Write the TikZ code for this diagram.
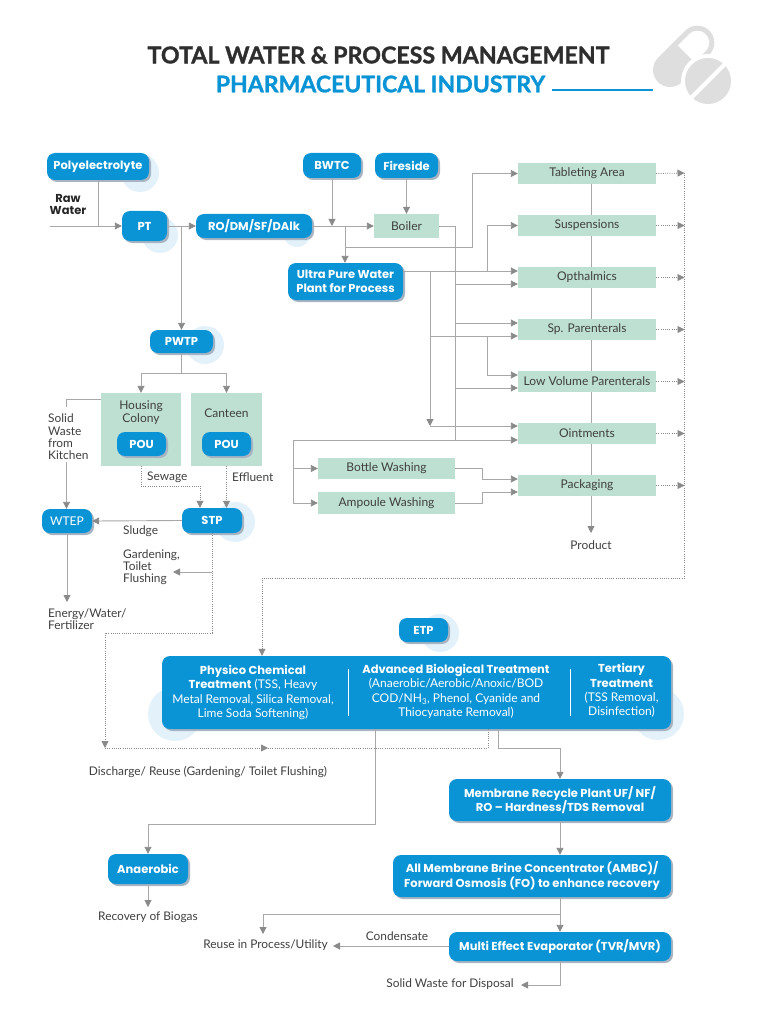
\documentclass[tikz,border=0pt]{standalone}
\usepackage{fontspec}
\setmainfont{Lato}
\newfontfamily\pop{Poppins}
\newfontfamily\ttlf{Lato}[BoldFeatures={FakeBold=1.3}]
\usetikzlibrary{arrows.meta,shadows,calc}
\definecolor{bl}{HTML}{0A94D6}
\definecolor{blt}{HTML}{E3F1FA}
\definecolor{gr}{HTML}{BEE0D2}
\definecolor{sh}{HTML}{A9B4C2}
\definecolor{ln}{HTML}{A8A8A8}
\definecolor{hd}{HTML}{8A8A8A}
\definecolor{tx}{HTML}{3F3F3F}
\definecolor{pill}{HTML}{DEDEDE}
\definecolor{ttl}{HTML}{2E2E2E}
\newcommand\boxfont{\pop\fontsize{11.5}{14.2}\selectfont\bfseries}
\tikzset{
  bluebox/.style={fill=bl,rounded corners=8pt,text=white,inner sep=0pt,align=center,font=\boxfont,
    general shadow={shadow xshift=2pt,shadow yshift=-2pt,fill=sh}},
  greenbox/.style={fill=gr,text=tx,inner sep=0pt,align=center,font=\fontsize{12}{13}\selectfont},
  lab/.style={text=tx,inner sep=1pt,align=left,font=\fontsize{11.9}{12.2}\selectfont},
  labc/.style={lab,align=center},
  wsmall/.style={text=white,inner sep=0pt,align=center,font=\fontsize{12}{14.4}\selectfont},
  conn/.style={draw=ln,line width=0.9pt},
  arr/.style={conn,-{Triangle[length=7pt,width=7pt,color=hd]}},
  dot/.style={draw=hd,line width=0.8pt,dash pattern=on 1pt off 1.2pt},
  darr/.style={dot,-{Triangle[length=7pt,width=7pt,color=hd]}},
  halo/.style={fill=blt,draw=none},
}
\newcommand\bx[7]{%
  \pgfmathsetmacro\cxx{(#2+#4)/2}\pgfmathsetmacro\cyy{(#3+#5)/2}%
  \pgfmathsetmacro\wxx{#4-#2}\pgfmathsetmacro\hyy{#5-#3}%
  \node[#6,minimum width=\wxx pt,minimum height=\hyy pt] (#1) at (\cxx,\cyy) {#7};}
\begin{document}
\begin{tikzpicture}[x=1pt,y=-1pt]
\useasboundingbox (0,0) rectangle (757,1024);
% title
\node[inner sep=0pt,text=ttl,font=\ttlf\fontsize{23.2}{26}\selectfont\bfseries] (title) at (378.5,55) {TOTAL WATER \& PROCESS MANAGEMENT};
\node[inner sep=0pt,text=bl,font=\ttlf\fontsize{23}{26}\selectfont\bfseries] (subtitle) at (380.5,84) {PHARMACEUTICAL INDUSTRY};
\coordinate (ula) at (552,90);\coordinate (ulb) at (653,90);
\draw[draw=bl,line width=1.2pt] (ula) -- (ulb);
% pill icon
\begin{scope}[shift={(686,54)},rotate=45,x=1pt,y=1pt]
  \fill[pill] (0,-17) -- (-22.6,-17) arc[start angle=270,end angle=90,radius=17] -- (0,17) -- cycle;
  \draw[pill,line width=5pt] (0,14.5) -- (16,14.5) arc[start angle=90,end angle=-90,radius=14.5] -- (0,-14.5);
\end{scope}
\begin{scope}[shift={(708,81)},rotate=45,x=1pt,y=1pt]
  \fill[white] (0,0) circle[radius=27];
  \fill[pill] (0,0) circle[radius=23];
  \fill[white] (-27,-2) rectangle (27,2);
\end{scope}
% halos
\fill[halo] (140,173) circle[radius=19];
\fill[halo] (160,235) circle[radius=18];
\fill[halo] (297,233) circle[radius=14];
\fill[halo] (205,345) circle[radius=19];
\fill[halo] (235,522) circle[radius=20];
\fill[halo] (440,633) circle[radius=19];
\fill[halo] (175,714) circle[radius=27];
\fill[halo] (658,714) circle[radius=26];
% blue nodes
\bx{poly}{47}{153}{149}{180}{bluebox}{Polyelectrolyte}
\bx{pt}{122}{211}{167}{241}{bluebox}{PT}
\bx{ro}{196}{214}{312}{238}{bluebox}{RO/DM/SF/DAlk}
\bx{bwtc}{303}{153}{361}{178}{bluebox}{BWTC}
\bx{fire}{375}{153}{438}{178}{bluebox}{Fireside}
\bx{upw}{288}{263}{403}{300}{bluebox}{Ultra Pure Water\\Plant for Process}
\bx{pwtp}{150}{330}{213}{353}{bluebox}{PWTP}
% green nodes
\bx{boiler}{374}{214}{439}{238}{greenbox}{Boiler}
\bx{tab}{518}{163}{656}{184}{greenbox}{Tableting Area}
\bx{susp}{518}{215}{656}{236}{greenbox}{Suspensions}
\bx{opth}{518}{267}{656}{288}{greenbox}{Opthalmics}
\bx{sp}{518}{319}{656}{340}{greenbox}{Sp. Parenterals}
\bx{low}{518}{371}{656}{392}{greenbox}{Low Volume Parenterals}
\bx{oint}{518}{423}{656}{444}{greenbox}{Ointments}
\bx{pack}{518}{475}{656}{496}{greenbox}{Packaging}
\bx{bottle}{318}{458}{455}{479}{greenbox}{Bottle Washing}
\bx{amp}{318}{492}{455}{514}{greenbox}{Ampoule Washing}
\bx{housing}{101}{393}{181}{466}{greenbox}{}
\bx{canteen}{191}{393}{262}{466}{greenbox}{}
\node[greenbox,fill=none] (hlabel) at (141,413) {Housing\\Colony};
\node[greenbox,fill=none] (clabel) at (226.5,413) {Canteen};
\bx{pou1}{117}{432}{166}{456}{bluebox}{POU}
\bx{pou2}{202}{432}{251}{456}{bluebox}{POU}
\bx{wtep}{42}{509}{92}{533}{bluebox,font=\fontsize{12}{13}\selectfont}{WTEP}
\bx{stp}{182}{508}{242}{533}{bluebox}{STP}
\bx{etp}{399}{618}{448}{642}{bluebox}{ETP}
\bx{etpbox}{162}{656}{671}{729}{bluebox}{}
\bx{anaer}{108}{854}{188}{884}{bluebox}{Anaerobic}
\bx{memb}{449}{779}{671}{821}{bluebox}{Membrane Recycle Plant UF/ NF/\\RO – Hardness/TDS Removal}
\bx{ambc}{393}{855}{671}{897}{bluebox}{All Membrane Brine Concentrator (AMBC)/\\Forward Osmosis (FO) to enhance recovery}
\bx{mee}{449}{932}{671}{961}{bluebox}{Multi Effect Evaporator (TVR/MVR)}
% big box text
\node[wsmall] (phys) at (253,692.5) {{\boxfont Physico Chemical}\\{\boxfont Treatment} (TSS, Heavy\\Metal Removal, Silica Removal,\\Lime Soda Softening)};
\node[wsmall] (adv) at (456,691.5) {{\boxfont Advanced Biological Treatment}\\(Anaerobic/Aerobic/Anoxic/BOD\\COD/NH\textsubscript{3}, Phenol, Cyanide and\\Thiocyanate Removal)};
\node[wsmall] (tert) at (621.5,690.5) {{\boxfont Tertiary}\\{\boxfont Treatment}\\(TSS Removal,\\Disinfection)};
\coordinate (sa1) at (348,669);\coordinate (sa2) at (348,716);
\coordinate (sb1) at (570,669);\coordinate (sb2) at (570,716);
\draw[white,line width=0.6pt] (sa1) -- (sa2);
\draw[white,line width=0.6pt] (sb1) -- (sb2);
% plain labels
\node[lab,align=center,text=black!85,font=\pop\fontsize{11.5}{12.2}\selectfont\bfseries] (raw) at (68,204.5) {Raw\\Water};
\node[lab,anchor=north west] (solid) at (47,413) {Solid\\Waste\\from\\Kitchen};
\node[lab,anchor=west] (sew) at (146,477) {Sewage};
\node[lab,anchor=west] (eff) at (231,477) {Effluent};
\node[lab,anchor=west] (sludge) at (122,531) {Sludge};
\node[lab,anchor=west] (gard) at (122,567) {Gardening,\\Toilet\\Flushing};
\node[lab,anchor=west] (energy) at (47,619) {Energy/Water/\\Fertilizer};
\node[labc] (product) at (591,545) {Product};
\node[labc] (disch) at (208,772) {Discharge/ Reuse (Gardening/ Toilet Flushing)};
\node[labc] (biogas) at (148,917) {Recovery of Biogas};
\node[labc] (reuse) at (265.5,945) {Reuse in Process/Utility};
\node[labc] (cond) at (397,936) {Condensate};
\node[labc] (waste) at (450,984) {Solid Waste for Disposal};
% coordinates
\coordinate (rawin) at (50,226);
\coordinate (j1) at (181.5,226);
\coordinate (jb) at (455,226);
\coordinate (jbe) at (455,440);
\coordinate (jup) at (345,226);
\coordinate (jt1) at (345,247);
\coordinate (jt2) at (472,247);
\coordinate (jo) at (430,271);
\coordinate (jo2) at (430,426);
\coordinate (js) at (487,271);
\coordinate (jsp) at (430,336);
\coordinate (jl) at (487,336);
\coordinate (jw) at (293,440);
\coordinate (jm) at (482,468.5);
\coordinate (jn) at (482,503);
\coordinate (jv) at (591,300);
\coordinate (jhc) at (181.5,373);
\coordinate (jsw1) at (66.5,399);
\coordinate (jsw2) at (66.5,407);
\coordinate (jsw3) at (66.5,462);
\coordinate (jse) at (141,486);
\coordinate (jse2) at (200,486);
\coordinate (jst) at (212,633);
\coordinate (jg) at (212,572);
\coordinate (gardt) at (173,572);
\coordinate (jdl) at (105,633);
\coordinate (jdb) at (105,748);
\coordinate (jdr) at (488,748);
\coordinate (jdm) at (268,748);
\coordinate (jr) at (684.5,173);
\coordinate (jrb) at (684.5,578);
\coordinate (jet) at (262,578);
\coordinate (jen) at (375,824);
\coordinate (jan) at (498,748);
\coordinate (jam) at (560,748);
\coordinate (jre) at (560,914);
\coordinate (jre2) at (263,914);
\coordinate (jmw) at (560,985);
\coordinate (wastet) at (521,985);
\coordinate (energyt) at (67,602);
\coordinate (biot) at (148,907);
\coordinate (prodt) at (591,533);
\coordinate (reuset) at (263,934);
\coordinate (condt) at (333,946);
% solid connectors
\draw[conn] (poly.south) -- (poly.south |- rawin);
\draw[arr] (rawin) -- (pt.west);
\draw[arr] (pt.east) -- (ro.west);
\draw[arr] (j1) -- (pwtp.north);
\draw[arr] (ro.east) -- (boiler.west);
\draw[arr] (bwtc.south) -- (bwtc.south |- ro.east);
\draw[arr] (fire.south) -- (fire.south |- boiler.north);
\draw[arr] (jup) -- (jup |- upw.north);
\draw[arr] (jt1) -- (jt2) |- (tab.west);
\draw[conn] (boiler.east) -- (jb) -- (jbe);
\draw[arr] (upw.east |- jo) -- (jo -| opth.west);
\draw[arr] (js) |- (susp.west);
\draw[conn] (jo) -- (jsp);
\draw[arr] (jsp) -- (jo2);
\draw[arr] (jo2) -- (jo2 -| oint.west);
\draw[arr] (jsp) -- (jsp -| sp.west);
\draw[arr] (jl) |- (low.west |- 0,375);
\draw[arr] (jb |- 0,284) -- (opth.west |- 0,284);
\draw[arr] (jb |- 0,323) -- (sp.west |- 0,323);
\draw[arr] (jb |- 0,388) -- (low.west |- 0,388);
\draw[arr] (jw) -- (jw -| oint.west);
\draw[conn] (jw) -- (jw |- amp.west);
\draw[arr] (jw |- bottle.west) -- (bottle.west);
\draw[arr] (jw |- amp.west) -- (amp.west);
\draw[arr] (bottle.east) -- (jm) |- (pack.west |- 0,479);
\draw[arr] (amp.east) -- (jn) |- (pack.west |- 0,492);
\draw[conn] (tab.south -| jv) -- (susp.north -| jv);
\draw[conn] (susp.south -| jv) -- (opth.north -| jv);
\draw[conn] (opth.south -| jv) -- (sp.north -| jv);
\draw[conn] (sp.south -| jv) -- (low.north -| jv);
\draw[conn] (low.south -| jv) -- (oint.north -| jv);
\draw[conn] (oint.south -| jv) -- (pack.north -| jv);
\draw[arr] (pack.south -| jv) -- (prodt);
\draw[conn] (pwtp.south) -- (jhc);
\draw[arr] (jhc) -| (housing.north);
\draw[arr] (jhc) -| (canteen.north);
\draw[conn] (housing.west |- jsw1) -- (jsw1) -- (jsw2);
\draw[arr] (jsw3) -- (jsw3 |- wtep.north);
\draw[arr] (stp.west) -- (wtep.east);
\draw[arr] (wtep.south) -- (energyt);
\draw[arr] (jg) -- (gardt);
\draw[arr] (etpbox.south -| jen) -- (jen) -| (anaer.north);
\draw[arr] (anaer.south) -- (biot);
\draw[arr] (etpbox.south -| jan) -- (jan) -- (jam) -- (memb.north -| jam);
\draw[arr] (memb.south -| jam) -- (ambc.north -| jam);
\draw[arr] (ambc.south -| jam) -- (mee.north -| jam);
\draw[arr] (jre) -- (jre2) -- (reuset);
\draw[arr] (mee.west |- condt) -- (condt);
\draw[arr] (mee.south -| jam) -- (jmw) -- (wastet);
% dotted connectors
\draw[darr] (tab.east) -- (jr);
\draw[darr] (susp.east) -- (susp.east -| jr);
\draw[darr] (opth.east) -- (opth.east -| jr);
\draw[darr] (sp.east) -- (sp.east -| jr);
\draw[darr] (low.east) -- (low.east -| jr);
\draw[darr] (oint.east) -- (oint.east -| jr);
\draw[darr] (pack.east) -- (pack.east -| jr);
\draw[dot] (jr) -- (jrb) -- (jet);
\draw[darr] (jet) -- (jet |- etpbox.north);
\draw[dot] (housing.south) -- (jse) -- (jse2);
\draw[darr] (jse2) -- (jse2 |- stp.north);
\draw[darr] (canteen.south) -- (canteen.south |- stp.north);
\draw[dot] (stp.south) -- (jst) -- (jdl);
\draw[darr] (jdl) -- (jdb);
\draw[darr] (jdb) -- (jdm);
\draw[dot] (jdm) -- (jdr) -- (etpbox.south -| jdr);
\end{tikzpicture}
\end{document}
